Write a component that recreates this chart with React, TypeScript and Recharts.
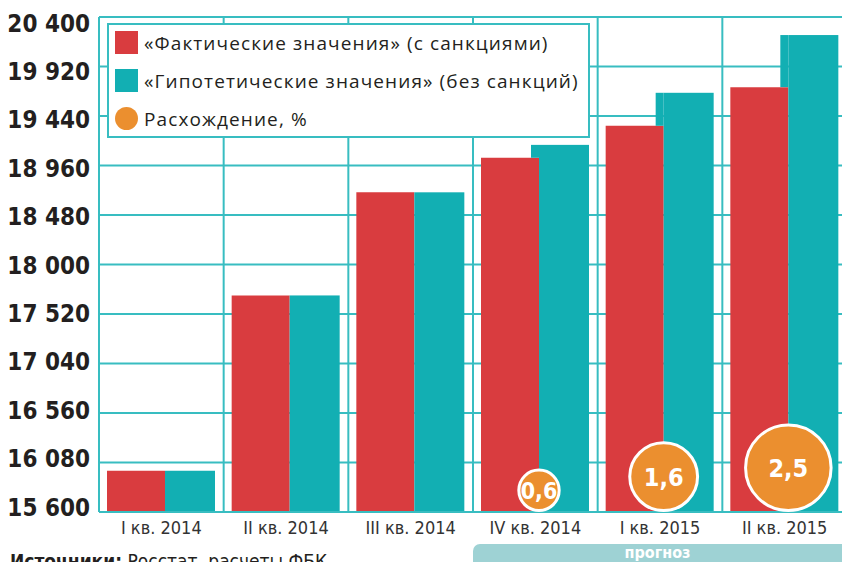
import React from "react";
import {
  Bar,
  BarChart,
  CartesianGrid,
  LabelList,
  XAxis,
  YAxis,
} from "recharts";

const categories = [
  "I кв. 2014",
  "II кв. 2014",
  "III кв. 2014",
  "IV кв. 2014",
  "I кв. 2015",
  "II кв. 2015",
];
const actualValues = [16000, 17700, 18700, 19035, 19345, 19720];
const hypotheticalValues = [16000, 17700, 18700, 19160, 19665, 20225];
const divergence = [null, null, null, 0.6, 1.6, 2.5];
const yTicks = [
  15600, 16080, 16560, 17040, 17520, 18000, 18480, 18960, 19440, 19920, 20400,
];

const Y_MIN = 15600;
const Y_MAX = 20400;

const RED = "#D93C3F";
const TEAL = "#12AFB3";
const ORANGE = "#EB8F2F";
const GRID = "#38BDC1";
const TEXT = "#231F20";
const OVERLAP = 8;

const condensed =
  "'DejaVu Sans Condensed', 'Liberation Sans Narrow', Roboto, sans-serif";

const data = categories.map((name, i) => ({
  name,
  actual: actualValues[i],
  hypothetical: hypotheticalValues[i],
  diff: divergence[i],
}));

const fmt = (v: number) => String(v).replace(/\B(?=(\d{3})+(?!\d))/g, " ");

// teal bar sits behind the red one on the overlapping strip
const TealShape = (props: any) => {
  const { x, y, width, height, payload } = props;
  const bottom = y + height;
  const perUnit = height / (payload.hypothetical - Y_MIN);
  const redTop = bottom - (payload.actual - Y_MIN) * perUnit;
  return (
    <g>
      <rect x={x + OVERLAP} y={y} width={width - OVERLAP} height={height} fill={TEAL} />
      {redTop - y > 0.5 && (
        <rect x={x} y={y} width={OVERLAP} height={redTop - y} fill={TEAL} />
      )}
    </g>
  );
};

const DiffBubble = (props: any) => {
  const { x, y, width, height, value } = props;
  if (value == null || value === "") return null;
  const r = 28 * Math.sqrt(Number(value));
  const cx = Number(x) + OVERLAP;
  const cy = Number(y) + Number(height) - r;
  return (
    <g>
      <circle cx={cx} cy={cy} r={r - 1.5} fill={ORANGE} stroke="#fff" strokeWidth={3} />
      <text
        x={cx}
        y={cy}
        dy="0.36em"
        textAnchor="middle"
        fill="#fff"
        fontFamily={condensed}
        fontWeight={700}
        fontSize={value < 1 ? 23 : 25}
      >
        {String(value).replace(".", ",")}
      </text>
    </g>
  );
};

const YTick = (props: any) => {
  const { x, y, payload, index } = props;
  const shift = 6 - (index != null ? (10 - index) * 1.1 : 0);
  return (
    <text
      x={x}
      y={y + shift}
      dy="0.36em"
      textAnchor="end"
      fill={TEXT}
      fontFamily={condensed}
      fontWeight={700}
      fontSize={24}
    >
      {fmt(payload.value)}
    </text>
  );
};

const legendItems = [
  { label: "«Фактические значения» (с санкциями)", color: RED, round: false },
  { label: "«Гипотетические значения» (без санкций)", color: TEAL, round: false },
  { label: "Расхождение, %", color: ORANGE, round: true },
];

export default function App() {
  return (
    <div
      style={{
        position: "absolute",
        left: 0,
        top: 0,
        width: 842,
        height: 562,
        overflow: "hidden",
        background: "#fff",
      }}
    >
      <BarChart
        width={860}
        height={562}
        data={data}
        margin={{ top: 17, right: 13, left: 0, bottom: 20 }}
        barSize={58}
        barGap={-OVERLAP}
      >
        <CartesianGrid
          stroke={GRID}
          strokeWidth={2}
          verticalCoordinatesGenerator={({ offset }: any) =>
            categories
              .map((_, i) => offset.left + (i * offset.width) / categories.length)
              .concat(offset.left + offset.width)
          }
        />
        <XAxis
          dataKey="name"
          axisLine={{ stroke: GRID, strokeWidth: 2 }}
          tickLine={false}
          tickSize={0}
          tickMargin={9}
          height={30}
          interval={0}
          tick={{ fill: "#333", fontSize: 18, fontFamily: condensed }}
        />
        <YAxis
          domain={[Y_MIN, Y_MAX]}
          ticks={yTicks}
          allowDataOverflow
          width={99}
          axisLine={{ stroke: GRID, strokeWidth: 2 }}
          tickLine={false}
          tickSize={0}
          tickMargin={9}
          interval={0}
          tick={<YTick />}
        />
        <Bar dataKey="actual" fill={RED} isAnimationActive={false} />
        <Bar
          dataKey="hypothetical"
          fill={TEAL}
          shape={<TealShape />}
          isAnimationActive={false}
        >
          <LabelList dataKey="diff" content={<DiffBubble />} />
        </Bar>
      </BarChart>

      <div
        style={{
          position: "absolute",
          left: 107,
          top: 23,
          width: 483,
          height: 115,
          boxSizing: "border-box",
          border: `2px solid ${GRID}`,
          background: "#fff",
          fontFamily: "'Open Sans', sans-serif",
          fontSize: 19,
          letterSpacing: 1.1,
          color: TEXT,
        }}
      >
        {legendItems.map((item, i) => (
          <div
            key={item.label}
            style={{
              position: "absolute",
              left: 6,
              top: 6 + i * 38,
              height: 23,
              display: "flex",
              alignItems: "center",
              whiteSpace: "nowrap",
            }}
          >
            <span
              style={{
                display: "inline-block",
                width: 23,
                height: 23,
                background: item.color,
                borderRadius: item.round ? "50%" : 0,
                marginRight: 6,
              }}
            />
            <span>{item.label}</span>
          </div>
        ))}
      </div>

      <div
        style={{
          position: "absolute",
          left: 10,
          top: 549,
          fontFamily: condensed,
          fontSize: 19,
          lineHeight: "24px",
          color: TEXT,
          whiteSpace: "nowrap",
        }}
      >
        <b>Источники:</b> Росстат, расчеты ФБК
      </div>

      <div
        style={{
          position: "absolute",
          left: 473,
          top: 544,
          width: 380,
          height: 30,
          background: "#9ED2D4",
          borderTopLeftRadius: 7,
        }}
      >
        <div
          style={{
            position: "absolute",
            left: 0,
            width: 369,
            top: 0,
            textAlign: "center",
            color: "#fff",
            fontFamily: condensed,
            fontWeight: 700,
            fontSize: 16,
            lineHeight: "18px",
          }}
        >
          прогноз
        </div>
      </div>
    </div>
  );
}
